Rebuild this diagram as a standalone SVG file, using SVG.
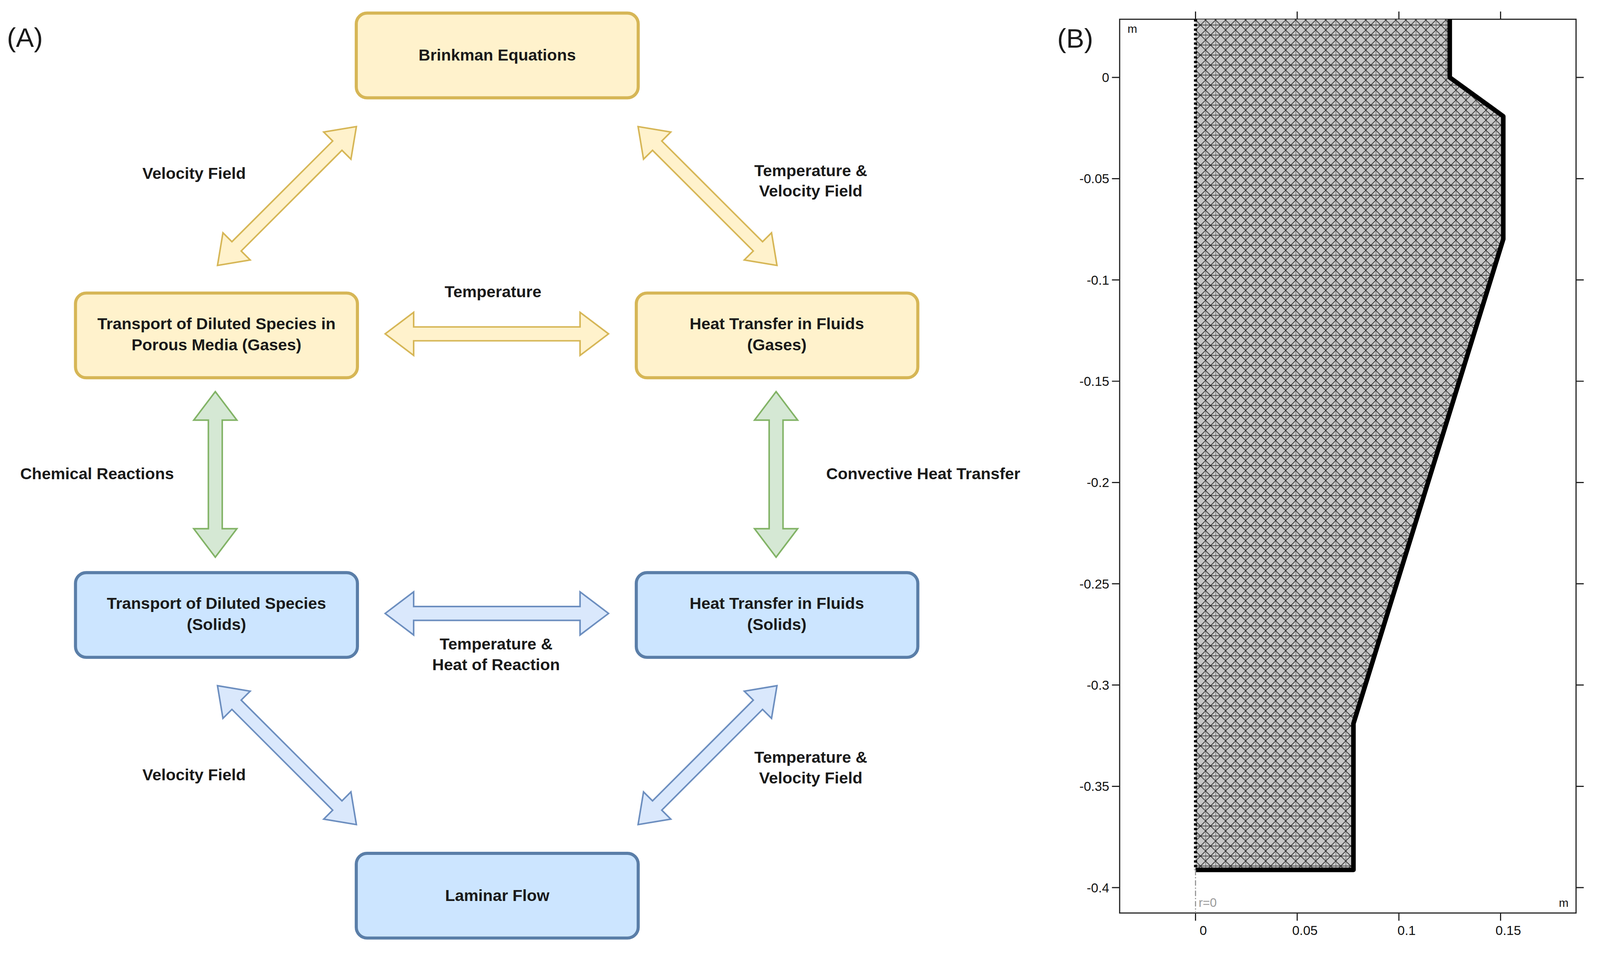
<svg xmlns="http://www.w3.org/2000/svg" width="4143" height="2453" viewBox="0 0 4143 2453">
<style>
text{font-family:"Liberation Sans",Arial,sans-serif;font-weight:bold;font-size:42px;fill:#1a1a1a;text-anchor:middle}
.y{fill:#fff2cc;stroke:#d6b656;stroke-width:8}
.b{fill:#cce5ff;stroke:#5a7ea8;stroke-width:8}
.ya{fill:#fff2cc;stroke:#d6b656;stroke-width:4}
.ga{fill:#d5e8d4;stroke:#82b366;stroke-width:4}
.ba{fill:#dae8fc;stroke:#6c8ebf;stroke-width:4}
.ax{font-weight:normal;font-size:34px;fill:#111}
.tk{stroke:#222;stroke-width:3}
.pl{font-weight:normal;font-size:70px;text-anchor:start}
</style>
<defs>
<path id="h290" d="M-290 0L-216-56L-216-18L216-18L216-56L290 0L216 56L216 18L-216 18L-216 56Z"/>
<path id="h215" d="M-215 0L-141-56L-141-18L141-18L141-56L215 0L141 56L141 18L-141 18L-141 56Z"/>
<path id="h255" d="M-255 0L-185-50L-185-17L185-17L185-50L255 0L185 50L185 17L-185 17L-185 50Z"/>
<pattern id="mesh" width="26" height="26" patternUnits="userSpaceOnUse" x="3104" y="0">
<rect width="26" height="26" fill="#c8c8c8"/>
<path d="M0 0V26M0 0L26 26M26 0L0 26M0 13H26" stroke="#222" stroke-width="1.6" fill="none"/>
</pattern>
<clipPath id="shape"><path d="M3104 50H3764V201L3903 302V621L3514 1879V2259H3104Z"/></clipPath>
</defs>
<g transform="scale(0.986)">
<text class="pl" x="18" y="122">(A)</text>
<g id="connectors">
<use href="#h255" class="ya" transform="translate(745 509) rotate(-45)"/>
<use href="#h255" class="ya" transform="translate(1837 509) rotate(45)"/>
<use href="#h290" class="ya" transform="translate(1290 867)"/>
<use href="#h215" class="ga" transform="translate(559 1232) rotate(90)"/>
<use href="#h215" class="ga" transform="translate(2015 1232) rotate(90)"/>
<use href="#h290" class="ba" transform="translate(1290 1593)"/>
<use href="#h255" class="ba" transform="translate(745 1961) rotate(45)"/>
<use href="#h255" class="ba" transform="translate(1837 1961) rotate(-45)"/>
<text x="504" y="465">Velocity Field</text>
<text x="2105" y="457">Temperature &amp;</text>
<text x="2105" y="510">Velocity Field</text>
<text x="1280" y="772">Temperature</text>
<text x="252" y="1244">Chemical Reactions</text>
<text x="2397" y="1244">Convective Heat Transfer</text>
<text x="1288" y="1687">Temperature &amp;</text>
<text x="1288" y="1740">Heat of Reaction</text>
<text x="504" y="2026">Velocity Field</text>
<text x="2105" y="1981">Temperature &amp;</text>
<text x="2105" y="2034">Velocity Field</text>
</g>
<g id="brinkman"><rect class="y" x="925" y="34" width="732" height="220" rx="28"/><text x="1291" y="157">Brinkman Equations</text></g>
<g id="tds-gases"><rect class="y" x="196" y="761" width="732" height="220" rx="28"/><text x="562" y="855">Transport of Diluted Species in</text><text x="562" y="910">Porous Media (Gases)</text></g>
<g id="htf-gases"><rect class="y" x="1652" y="761" width="731" height="220" rx="28"/><text x="2017" y="855">Heat Transfer in Fluids</text><text x="2017" y="910">(Gases)</text></g>
<g id="tds-solids"><rect class="b" x="196" y="1487" width="732" height="220" rx="28"/><text x="562" y="1581">Transport of Diluted Species</text><text x="562" y="1636">(Solids)</text></g>
<g id="htf-solids"><rect class="b" x="1652" y="1487" width="731" height="220" rx="28"/><text x="2017" y="1581">Heat Transfer in Fluids</text><text x="2017" y="1636">(Solids)</text></g>
<g id="laminar"><rect class="b" x="925" y="2216" width="732" height="220" rx="28"/><text x="1291" y="2340">Laminar Flow</text></g>
<g id="panelB">
<text class="pl" x="2745" y="124">(B)</text>
<rect x="2907" y="50" width="1185" height="2321" fill="#fff" stroke="#222" stroke-width="3"/>
<rect x="3104" y="50" width="800" height="2210" fill="url(#mesh)" clip-path="url(#shape)"/>
<path d="M3764 50V201L3903 302V621L3514 1879V2259H3104" fill="none" stroke="#000" stroke-width="12" stroke-linejoin="round"/>
<path d="M3104 50V2259" stroke="#000" stroke-width="8" stroke-dasharray="6 6"/>
<path d="M3104 2259V2371" stroke="#999" stroke-width="3" stroke-dasharray="14 5 3 5"/>
<g class="tk">
<path d="M2887 201H2907M2887 464H2907M2887 727H2907M2887 990H2907M2887 1253H2907M2887 1516H2907M2887 1779H2907M2887 2042H2907M2887 2305H2907"/>
<path d="M4092 201H4112M4092 464H4112M4092 727H4112M4092 990H4112M4092 1253H4112M4092 1516H4112M4092 1779H4112M4092 2042H4112M4092 2305H4112"/>
<path d="M3104 30V50M3368 30V50M3632 30V50M3896 30V50M3104 2371V2391M3368 2371V2391M3632 2371V2391M3896 2371V2391"/>
</g>
<text class="ax" x="2880" y="213" style="text-anchor:end">0</text>
<text class="ax" x="2880" y="476" style="text-anchor:end">-0.05</text>
<text class="ax" x="2880" y="739" style="text-anchor:end">-0.1</text>
<text class="ax" x="2880" y="1002" style="text-anchor:end">-0.15</text>
<text class="ax" x="2880" y="1265" style="text-anchor:end">-0.2</text>
<text class="ax" x="2880" y="1528" style="text-anchor:end">-0.25</text>
<text class="ax" x="2880" y="1791" style="text-anchor:end">-0.3</text>
<text class="ax" x="2880" y="2054" style="text-anchor:end">-0.35</text>
<text class="ax" x="2880" y="2317" style="text-anchor:end">-0.4</text>
<text class="ax" x="3124" y="2428">0</text>
<text class="ax" x="3388" y="2428">0.05</text>
<text class="ax" x="3652" y="2428">0.1</text>
<text class="ax" x="3916" y="2428">0.15</text>
<text class="ax" x="2940" y="85" style="font-size:30px">m</text>
<text class="ax" x="4060" y="2355" style="font-size:30px">m</text>
<text class="ax" x="3112" y="2355" style="text-anchor:start;fill:#999;font-size:32px">r=0</text>
</g>
</g>
</svg>
